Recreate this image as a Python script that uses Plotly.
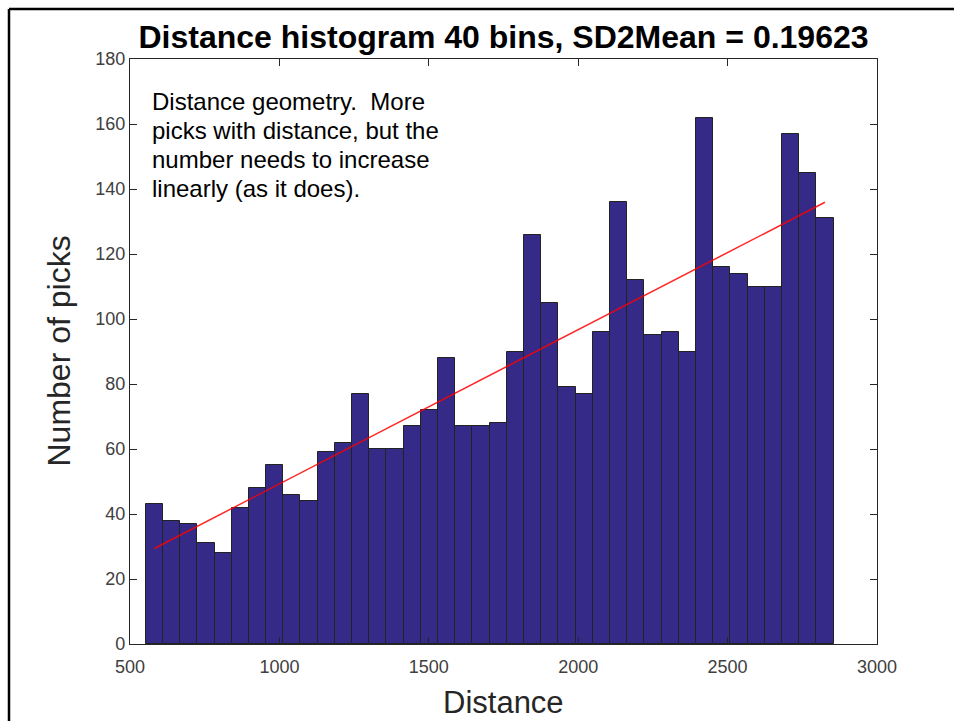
import numpy as np
import plotly.graph_objects as go

# Histogram of pick distances: 40 equal-width bins
counts = [43, 38, 37, 31, 28, 42, 48, 55, 46, 44,
          59, 62, 77, 60, 60, 67, 72, 88, 67, 67,
          68, 90, 126, 105, 79, 77, 96, 136, 112, 95,
          96, 90, 162, 116, 114, 110, 110, 157, 145, 131]
dist_min = 552.6
dist_max = 2854.6
n_bins = 40

x_ticks = [500, 1000, 1500, 2000, 2500, 3000]
y_ticks = [0, 20, 40, 60, 80, 100, 120, 140, 160, 180]

title_text = "Distance histogram 40 bins, SD2Mean = 0.19623"
x_label = "Distance"
y_label = "Number of picks"
note_lines = ["Distance geometry.  More",
              "picks with distance, but the",
              "number needs to increase",
              "linearly (as it does)."]

edges = np.linspace(dist_min, dist_max, n_bins + 1)
centers = 0.5 * (edges[:-1] + edges[1:])
width = edges[1] - edges[0]

# least-squares linear trend through the bin counts
slope, intercept = np.polyfit(centers, counts, 1)
trend_x = [centers[0], centers[-1]]
trend_y = [slope * centers[0] + intercept, slope * centers[-1] + intercept]

FONT = "Liberation Sans, Arial, sans-serif"
axis_col = "#262626"
tick_font = dict(family=FONT, size=18, color="#404040")
label_font = dict(family=FONT, size=32, color="#262626")

fig = go.Figure()
fig.add_trace(go.Bar(
    x=centers, y=counts, width=width,
    marker=dict(color="rgb(53,42,135)", line=dict(color="#222222", width=1)),
    showlegend=False,
))
fig.add_trace(go.Scatter(
    x=trend_x, y=trend_y, mode="lines",
    line=dict(color="rgba(255,0,0,0.85)", width=1.5),
    showlegend=False,
))

L, R, T, B = 130, 77, 59, 77
W, H = 954, 721
pw, ph = W - L - R, H - T - B

def px_x(p):
    return (p - L) / pw

def px_y(p):
    return (H - B - p) / ph

# note text, one annotation per line for tight line spacing
annotations = [
    dict(text=line, xref="paper", yref="paper",
         x=px_x(150), y=px_y(102 + 28.7 * i), xanchor="left", yanchor="middle",
         align="left", showarrow=False,
         font=dict(family=FONT, size=24, color="black"))
    for i, line in enumerate(note_lines)
]
# axis titles
annotations.append(dict(text=x_label, xref="paper", yref="paper",
                        x=0.5, y=px_y(702), xanchor="center", yanchor="middle",
                        showarrow=False, font=dict(family=FONT, size=31, color="#262626")))
annotations.append(dict(text=y_label, xref="paper", yref="paper",
                        x=px_x(58), y=0.5, xanchor="center", yanchor="middle",
                        textangle=-90, showarrow=False, font=label_font))

fig.update_layout(
    width=W, height=H,
    margin=dict(l=L, r=R, t=T, b=B, autoexpand=False),
    paper_bgcolor="white", plot_bgcolor="white",
    bargap=0,
    title=dict(text="<b>" + title_text + "</b>",
               x=0.5, xref="paper", xanchor="center",
               y=1 - 37 / H, yanchor="middle",
               font=dict(family=FONT, size=32, color="black")),
    xaxis=dict(range=[500, 3000], tickvals=x_ticks, ticks="inside", ticklen=7,
               tickcolor=axis_col, showline=True, linecolor=axis_col, linewidth=1.2,
               mirror="ticks", showgrid=False, zeroline=False, tickfont=tick_font,
               ticklabelstandoff=6, automargin=False),
    yaxis=dict(range=[0, 180], tickvals=y_ticks, ticks="inside", ticklen=7,
               tickcolor=axis_col, showline=True, linecolor=axis_col, linewidth=1.2,
               mirror="ticks", showgrid=False, zeroline=False, tickfont=tick_font,
               automargin=False),
    annotations=annotations,
    shapes=[
        dict(type="line", xref="paper", yref="paper",
             x0=px_x(9), x1=px_x(W), y0=px_y(9), y1=px_y(9),
             line=dict(color="black", width=2.5)),
        dict(type="line", xref="paper", yref="paper",
             x0=px_x(9), x1=px_x(9), y0=px_y(9), y1=px_y(H),
             line=dict(color="black", width=2.5)),
    ],
)

fig.write_html("out.html")
